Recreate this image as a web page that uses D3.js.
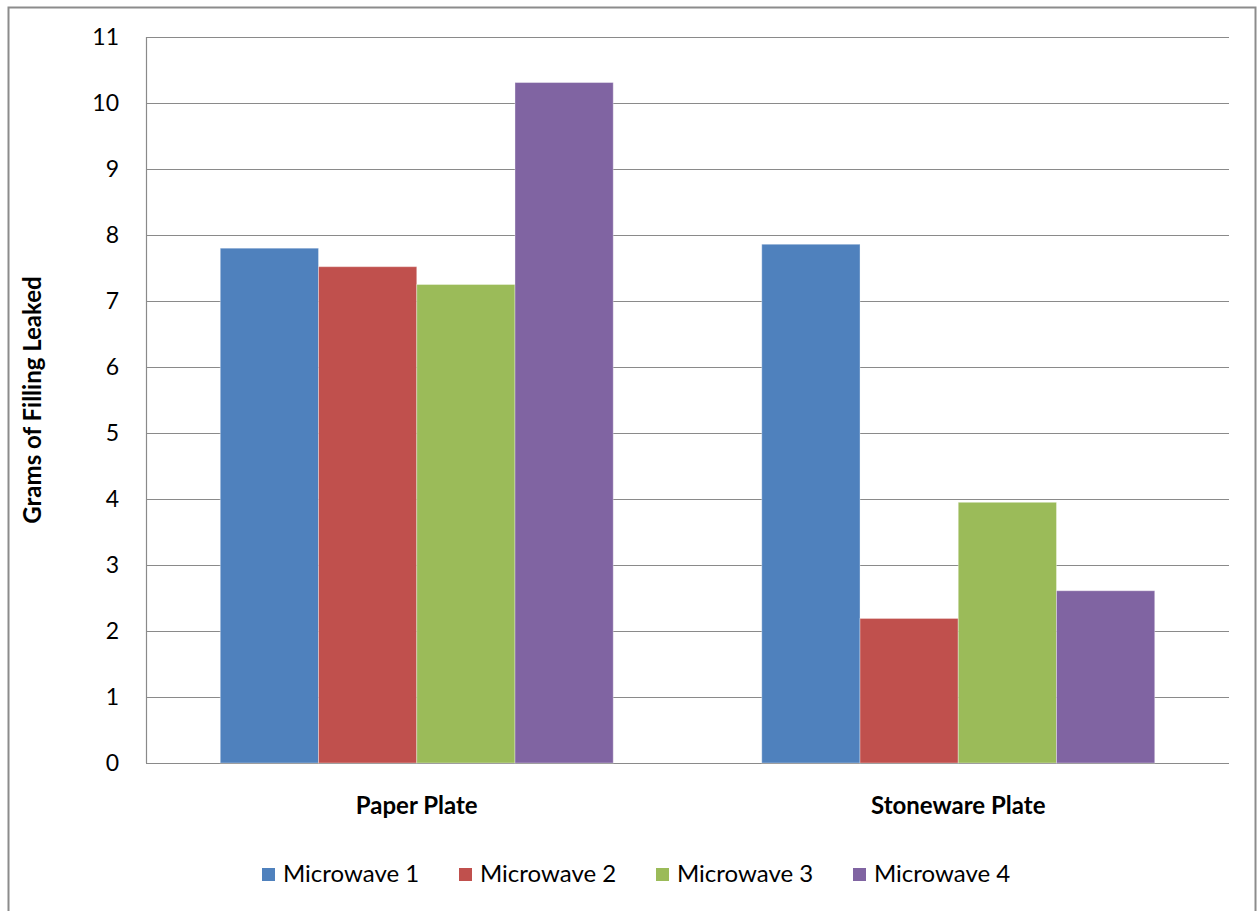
<!DOCTYPE html>
<html>
<head>
<meta charset="utf-8">
<script src="https://cdn.jsdelivr.net/npm/d3@7"></script>
<style>
  body { margin: 0; background: #fff; }
  svg text { font-family: Lato, "Open Sans", sans-serif; fill: #000; }
</style>
</head>
<body>
<div id="chart"></div>
<script>
var categories = ["Paper Plate", "Stoneware Plate"];
var series = ["Microwave 1", "Microwave 2", "Microwave 3", "Microwave 4"];
var colors = ["#4F81BD", "#C0504D", "#9BBB59", "#8064A2"];
var paperValues = [7.80, 7.52, 7.25, 10.31];
var stonewareValues = [7.86, 2.19, 3.95, 2.61];
var yTicks = [0, 1, 2, 3, 4, 5, 6, 7, 8, 9, 10, 11];

var width = 1257, height = 911;
var margin = {top: 37, right: 28, bottom: 148, left: 146};

var svg = d3.select("#chart").append("svg")
    .attr("width", width)
    .attr("height", height);

// outer chart frame
svg.append("rect")
    .attr("x", 8.5).attr("y", 7.5)
    .attr("width", 1247).attr("height", 940)
    .attr("fill", "none")
    .attr("stroke", "#8c8c8c")
    .attr("stroke-width", 2);

var x0 = d3.scaleBand()
    .domain(categories)
    .range([margin.left, width - margin.right])
    .padding(0);

var x1 = d3.scaleBand()
    .domain(series)
    .range([0, x0.bandwidth()])
    .paddingInner(0)
    .paddingOuter(0.756);

var y = d3.scaleLinear()
    .domain([0, 11])
    .range([height - margin.bottom, margin.top]);

// gridlines
svg.append("g")
    .selectAll("line")
    .data(yTicks)
    .join("line")
    .attr("x1", margin.left)
    .attr("x2", width - margin.right)
    .attr("y1", d => Math.round(y(d)) + 0.5)
    .attr("y2", d => Math.round(y(d)) + 0.5)
    .attr("stroke", "#8a8a8a")
    .attr("stroke-width", 1.2);

// y axis line
svg.append("line")
    .attr("x1", margin.left + 0.5).attr("x2", margin.left + 0.5)
    .attr("y1", margin.top).attr("y2", y(0))
    .attr("stroke", "#8a8a8a")
    .attr("stroke-width", 1.2);

// y tick labels
svg.append("g")
    .selectAll("text")
    .data(yTicks)
    .join("text")
    .attr("x", 119)
    .attr("y", d => y(d))
    .attr("dy", "0.35em")
    .attr("text-anchor", "end")
    .attr("font-size", 23)
    .text(d => d);

var data = categories.map(function(c, i) {
    var vals = i === 0 ? paperValues : stonewareValues;
    return {category: c, values: series.map((s, j) => ({series: s, value: vals[j], color: colors[j]}))};
});

// bars
svg.append("g")
    .selectAll("g")
    .data(data)
    .join("g")
    .attr("transform", d => "translate(" + x0(d.category) + ",0)")
    .selectAll("rect")
    .data(d => d.values)
    .join("rect")
    .attr("x", d => x1(d.series))
    .attr("width", x1.bandwidth())
    .attr("y", d => y(d.value))
    .attr("height", d => y(0) - y(d.value))
    .attr("fill", d => d.color)
    .attr("stroke", "rgba(255,255,255,0.35)")
    .attr("stroke-width", 1);

// category labels
svg.append("g")
    .selectAll("text")
    .data(categories)
    .join("text")
    .attr("x", d => x0(d) + x0.bandwidth() / 2)
    .attr("y", 806)
    .attr("dy", "0.35em")
    .attr("text-anchor", "middle")
    .attr("font-size", 24)
    .attr("font-weight", "bold")
    .text(d => d);

// y axis title
svg.append("text")
    .attr("transform", "translate(33," + (y(0) + y(11)) / 2 + ") rotate(-90)")
    .attr("dy", "0.35em")
    .attr("text-anchor", "middle")
    .attr("font-size", 24)
    .attr("font-weight", "bold")
    .text("Grams of Filling Leaked");

// legend
var legend = svg.append("g")
    .selectAll("g")
    .data(series)
    .join("g")
    .attr("transform", (d, i) => "translate(" + (262 + i * 197) + ",874)");

legend.append("rect")
    .attr("x", 0).attr("y", -6)
    .attr("width", 13).attr("height", 13)
    .attr("fill", (d, i) => colors[i]);

legend.append("text")
    .attr("x", 21)
    .attr("y", 0)
    .attr("dy", "0.35em")
    .attr("font-size", 24)
    .text(d => d);
</script>
</body>
</html>
